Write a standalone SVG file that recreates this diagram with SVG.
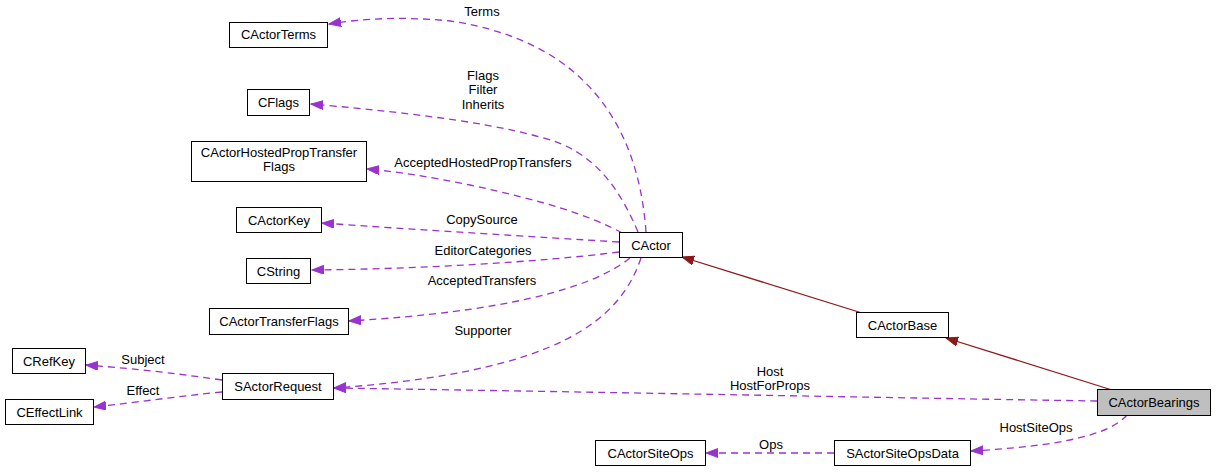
<svg xmlns="http://www.w3.org/2000/svg" width="1216" height="472" viewBox="0 0 1216 472">
<style>
  .node rect { fill: #ffffff; stroke: #000000; stroke-width: 1; }
  .node.root rect { fill: #bfbfbf; }
  text { font-family: "Liberation Sans", Arial, sans-serif; font-size: 13px; fill: #000000; text-anchor: middle; }
  .dep { fill: none; stroke: #9a32cd; stroke-width: 1.3; stroke-dasharray: 7,5; marker-end: url(#arrP); }
  .inh { fill: none; stroke: #8b1a1a; stroke-width: 1.3; marker-end: url(#arrR); }
</style>
<defs>
  <marker id="arrP" markerUnits="userSpaceOnUse" markerWidth="14" markerHeight="10" refX="12" refY="4.5" orient="auto">
    <path d="M0,0 L12,4.5 L0,9 z" fill="#9a32cd" stroke="#9a32cd" stroke-width="1"/>
  </marker>
  <marker id="arrR" markerUnits="userSpaceOnUse" markerWidth="14" markerHeight="10" refX="12" refY="4.5" orient="auto">
    <path d="M0,0 L12,4.5 L0,9 z" fill="#8b1a1a" stroke="#8b1a1a" stroke-width="1"/>
  </marker>
</defs>
<rect x="0" y="0" width="1216" height="472" fill="#ffffff"/>

<g id="connectors">
  <path class="dep" d="M646,232 C638,120 580,40 450,21 C400,16 360,19 329,24"/>
  <text x="482" y="16">Terms</text>

  <path class="dep" d="M638,232 C620,190 595,150 540,137 C480,120 380,110 311,104"/>
  <text x="483" y="80">Flags</text>
  <text x="483" y="94">Filter</text>
  <text x="483" y="109">Inherits</text>

  <path class="dep" d="M622,233 C590,215 540,200 470,185 C430,177 400,172 367,169"/>
  <text x="483" y="167">AcceptedHostedPropTransfers</text>

  <path class="dep" d="M619,242 C540,237 420,230 322,223"/>
  <text x="482" y="224">CopySource</text>

  <path class="dep" d="M619,252 C540,262 420,269 312,270"/>
  <text x="483" y="255">EditorCategories</text>

  <path class="dep" d="M630,258 C590,290 500,312 349,321"/>
  <text x="482" y="285">AcceptedTransfers</text>

  <path class="dep" d="M641,258 C620,320 560,372 334,388"/>
  <text x="483" y="335">Supporter</text>

  <path class="dep" d="M1097,401 C900,398 600,392 334,388"/>
  <text x="770" y="376">Host</text>
  <text x="770" y="390">HostForProps</text>

  <path class="inh" d="M862,313 L682,257"/>
  <path class="inh" d="M1112,390 L946,338"/>

  <path class="dep" d="M1127,415 C1110,435 1060,446 971,451"/>
  <text x="1036" y="432">HostSiteOps</text>

  <path class="dep" d="M834,453 L706,453"/>
  <text x="771" y="449">Ops</text>

  <path class="dep" d="M222,380 C180,374 140,369 86,365"/>
  <text x="143" y="364">Subject</text>

  <path class="dep" d="M222,392 C180,396 140,402 94,407"/>
  <text x="143" y="395">Effect</text>
</g>

<g id="CActorTerms" class="node"><rect x="229.5" y="22.5" width="98" height="25"/><text x="278.5" y="39">CActorTerms</text></g>
<g id="CFlags" class="node"><rect x="247.5" y="89.5" width="62" height="26"/><text x="278.5" y="107">CFlags</text></g>
<g id="CActorHostedPropTransferFlags" class="node"><rect x="191.5" y="141.5" width="175" height="40"/><text x="279" y="157">CActorHostedPropTransfer</text><text x="279" y="171">Flags</text></g>
<g id="CActorKey" class="node"><rect x="236.5" y="207.5" width="85" height="25"/><text x="279" y="224.5">CActorKey</text></g>
<g id="CString" class="node"><rect x="246.5" y="258.5" width="64" height="25"/><text x="278.5" y="275.5">CString</text></g>
<g id="CActorTransferFlags" class="node"><rect x="209.5" y="308.5" width="139" height="26"/><text x="279" y="326">CActorTransferFlags</text></g>
<g id="CActor" class="node"><rect x="619.5" y="232.5" width="63" height="25"/><text x="651" y="249.5">CActor</text></g>
<g id="CActorBase" class="node"><rect x="856.5" y="312.5" width="92" height="25"/><text x="902.5" y="329.5">CActorBase</text></g>
<g id="CActorBearings" class="node root"><rect x="1097.5" y="389.5" width="113" height="26"/><text x="1154" y="407">CActorBearings</text></g>
<g id="SActorSiteOpsData" class="node"><rect x="834.5" y="440.5" width="136" height="25"/><text x="902.5" y="457.5">SActorSiteOpsData</text></g>
<g id="CActorSiteOps" class="node"><rect x="595.5" y="440.5" width="110" height="25"/><text x="650.5" y="457.5">CActorSiteOps</text></g>
<g id="SActorRequest" class="node"><rect x="222.5" y="373.5" width="111" height="26"/><text x="278" y="391">SActorRequest</text></g>
<g id="CRefKey" class="node"><rect x="12.5" y="348.5" width="73" height="25"/><text x="49" y="365.5">CRefKey</text></g>
<g id="CEffectLink" class="node"><rect x="5.5" y="399.5" width="88" height="25"/><text x="49.5" y="416.5">CEffectLink</text></g>
</svg>
